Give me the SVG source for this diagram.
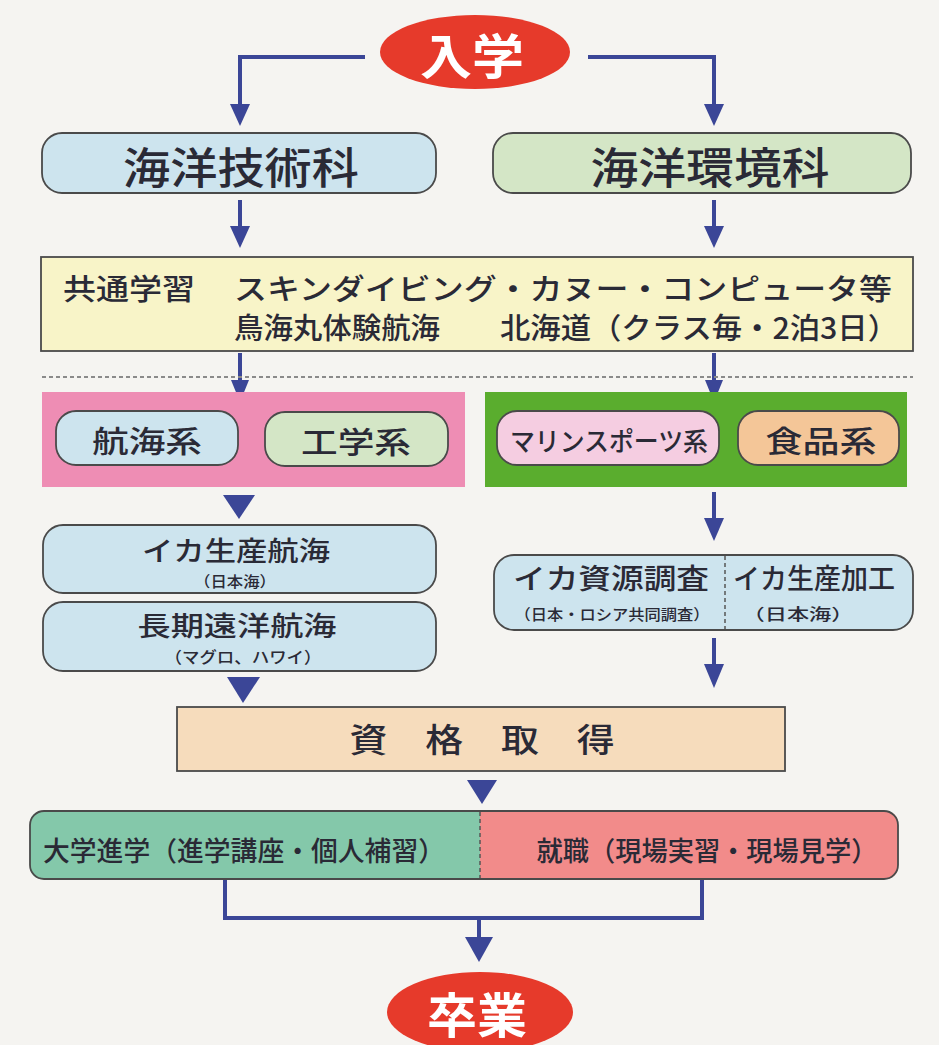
<svg xmlns="http://www.w3.org/2000/svg" width="939" height="1045" viewBox="0 0 939 1045">
<defs>
<style>
.t{font-family:"Noto Sans CJK JP","Noto Sans CJK SC",sans-serif;fill:#2a2a36;font-weight:500;dominant-baseline:central;text-anchor:middle}
.w{font-family:"Noto Sans CJK JP","Noto Sans CJK SC",sans-serif;fill:#ffffff;font-weight:bold;dominant-baseline:central;text-anchor:middle}
.box{stroke:#4a4a4a;stroke-width:1.8}
.ln{fill:none;stroke:#3b4697;stroke-width:4}
.hd{fill:#3b4697}
</style>
</defs>
<rect x="0" y="0" width="939" height="1045" fill="#f5f4f1"/>

<g id="connectors">
<path class="ln" d="M365 57 H240 V106"/>
<polygon class="hd" points="230,104 250,104 240,126"/>
<path class="ln" d="M588 57 H714 V106"/>
<polygon class="hd" points="704,104 724,104 714,126"/>
<path class="ln" d="M240 200 V228"/>
<polygon class="hd" points="230,226 250,226 240,248"/>
<path class="ln" d="M714 200 V228"/>
<polygon class="hd" points="704,226 724,226 714,248"/>
<path class="ln" d="M240 353 V382"/>
<polygon class="hd" points="231,380 249,380 240,402"/>
<path class="ln" d="M714 353 V382"/>
<polygon class="hd" points="705,380 723,380 714,402"/>
<polygon class="hd" points="223,495 255,495 239,519"/>
<path class="ln" d="M714 492 V520"/>
<polygon class="hd" points="704,518 724,518 714,541"/>
<polygon class="hd" points="227,677 260,677 243,703"/>
<path class="ln" d="M714 638 V666"/>
<polygon class="hd" points="704,664 724,664 714,688"/>
<polygon class="hd" points="467,780 497,780 482,804"/>
<path class="ln" d="M225 880 V918 H702 V880"/>
<path class="ln" d="M479 918 V940"/>
<polygon class="hd" points="465,937 493,937 479,962"/>
</g>

<g id="nyugaku">
<ellipse cx="475" cy="52" rx="95" ry="37" fill="#e63a2b"/>
<text class="w" x="472" y="53" font-size="48" textLength="104" lengthAdjust="spacingAndGlyphs">入学</text>
</g>

<g id="gijutsu">
<rect class="box" x="42" y="133" width="394" height="60" rx="20" fill="#cde4ee"/>
<text class="t" x="241" y="165" font-size="43" textLength="236" lengthAdjust="spacingAndGlyphs">海洋技術科</text>
</g>

<g id="kankyo">
<rect class="box" x="493" y="133" width="418" height="60" rx="20" fill="#d4e6c6"/>
<text class="t" x="710" y="165" font-size="43" textLength="239" lengthAdjust="spacingAndGlyphs">海洋環境科</text>
</g>

<g id="kyotsu">
<rect class="box" x="41" y="257" width="872" height="94" fill="#f8f4c8"/>
<text class="t" x="129" y="287" font-size="29" textLength="132" lengthAdjust="spacingAndGlyphs">共通学習</text>
<text class="t" x="563" y="287" font-size="29" textLength="658" lengthAdjust="spacingAndGlyphs">スキンダイビング・カヌー・コンピュータ等</text>
<text class="t" x="337" y="326" font-size="29" textLength="206" lengthAdjust="spacingAndGlyphs">鳥海丸体験航海</text>
<text class="t" x="699" y="326" font-size="29" textLength="398" lengthAdjust="spacingAndGlyphs">北海道（クラス毎・2泊3日）</text>
</g>

<line x1="42" y1="377" x2="913" y2="377" stroke="#8a8a8a" stroke-width="2" stroke-dasharray="4 3"/>

<g id="panel-left">
<rect x="42" y="392" width="423" height="95" fill="#ee8db4"/>
</g>
<g id="kokai">
<rect class="box" x="56" y="411" width="182" height="54" rx="20" fill="#cde4ee"/>
<text class="t" x="147" y="439" font-size="30" textLength="110" lengthAdjust="spacingAndGlyphs">航海系</text>
</g>
<g id="kogaku">
<rect class="box" x="265" y="412" width="183" height="54" rx="20" fill="#d4e6c6"/>
<text class="t" x="356" y="440" font-size="30" textLength="110" lengthAdjust="spacingAndGlyphs">工学系</text>
</g>

<g id="panel-right">
<rect x="485" y="392" width="422" height="95" fill="#5aad2e"/>
</g>
<g id="marine">
<rect class="box" x="497" y="411" width="222" height="54" rx="20" fill="#f5cde1"/>
<text class="t" x="609" y="439" font-size="26" textLength="198" lengthAdjust="spacingAndGlyphs">マリンスポーツ系</text>
</g>
<g id="shokuhin">
<rect class="box" x="738" y="411" width="161" height="54" rx="20" fill="#f4c698"/>
<text class="t" x="821" y="439" font-size="30" textLength="111" lengthAdjust="spacingAndGlyphs">食品系</text>
</g>

<g id="ika-kokai">
<rect class="box" x="43" y="525" width="393" height="68" rx="20" fill="#cde4ee"/>
<text class="t" x="236" y="549" font-size="27" textLength="188" lengthAdjust="spacingAndGlyphs">イカ生産航海</text>
<text class="t" x="235" y="580" font-size="15" textLength="82" lengthAdjust="spacingAndGlyphs">（日本海）</text>
</g>

<g id="choki">
<rect class="box" x="43" y="602" width="393" height="69" rx="20" fill="#cde4ee"/>
<text class="t" x="237" y="624" font-size="27" textLength="199" lengthAdjust="spacingAndGlyphs">長期遠洋航海</text>
<text class="t" x="243" y="656" font-size="16" textLength="157" lengthAdjust="spacingAndGlyphs">（マグロ、ハワイ）</text>
</g>

<g id="ika-chosa">
<rect class="box" x="494" y="555" width="419" height="75" rx="20" fill="#cde4ee"/>
<line x1="725" y1="556" x2="725" y2="629" stroke="#555" stroke-width="1.5" stroke-dasharray="4 3"/>
<text class="t" x="611" y="577" font-size="28" textLength="196" lengthAdjust="spacingAndGlyphs">イカ資源調査</text>
<text class="t" x="612" y="613" font-size="15" textLength="195" lengthAdjust="spacingAndGlyphs">（日本・ロシア共同調査）</text>
<text class="t" x="814" y="577" font-size="28" textLength="162" lengthAdjust="spacingAndGlyphs">イカ生産加工</text>
<text class="t" x="798" y="613" font-size="16" textLength="111" lengthAdjust="spacingAndGlyphs">（日本海）</text>
</g>

<g id="shikaku">
<rect class="box" x="177" y="707" width="608" height="64" fill="#f6dcbc"/>
<text class="t" x="482" y="738" font-size="33" textLength="265" lengthAdjust="spacingAndGlyphs">資　格　取　得</text>
</g>

<g id="shinro">
<path d="M480 811 H44 Q30 811 30 825 V865 Q30 879 44 879 H480 Z" fill="#84c8aa"/>
<path d="M480 811 H884 Q898 811 898 825 V865 Q898 879 884 879 H480 Z" fill="#f28b8a"/>
<rect class="box" x="30" y="811" width="868" height="68" rx="14" fill="none"/>
<line x1="480" y1="812" x2="480" y2="878" stroke="#555" stroke-width="1.5" stroke-dasharray="4 3"/>
<text class="t" x="244" y="849" font-size="27" textLength="402" lengthAdjust="spacingAndGlyphs">大学進学（進学講座・個人補習）</text>
<text class="t" x="707" y="849" font-size="27" textLength="341" lengthAdjust="spacingAndGlyphs">就職（現場実習・現場見学）</text>
</g>

<g id="sotsugyo">
<ellipse cx="480" cy="1012" rx="93" ry="40" fill="#e63a2b"/>
<text class="w" x="477" y="1012" font-size="48" textLength="100" lengthAdjust="spacingAndGlyphs">卒業</text>
</g>
</svg>
